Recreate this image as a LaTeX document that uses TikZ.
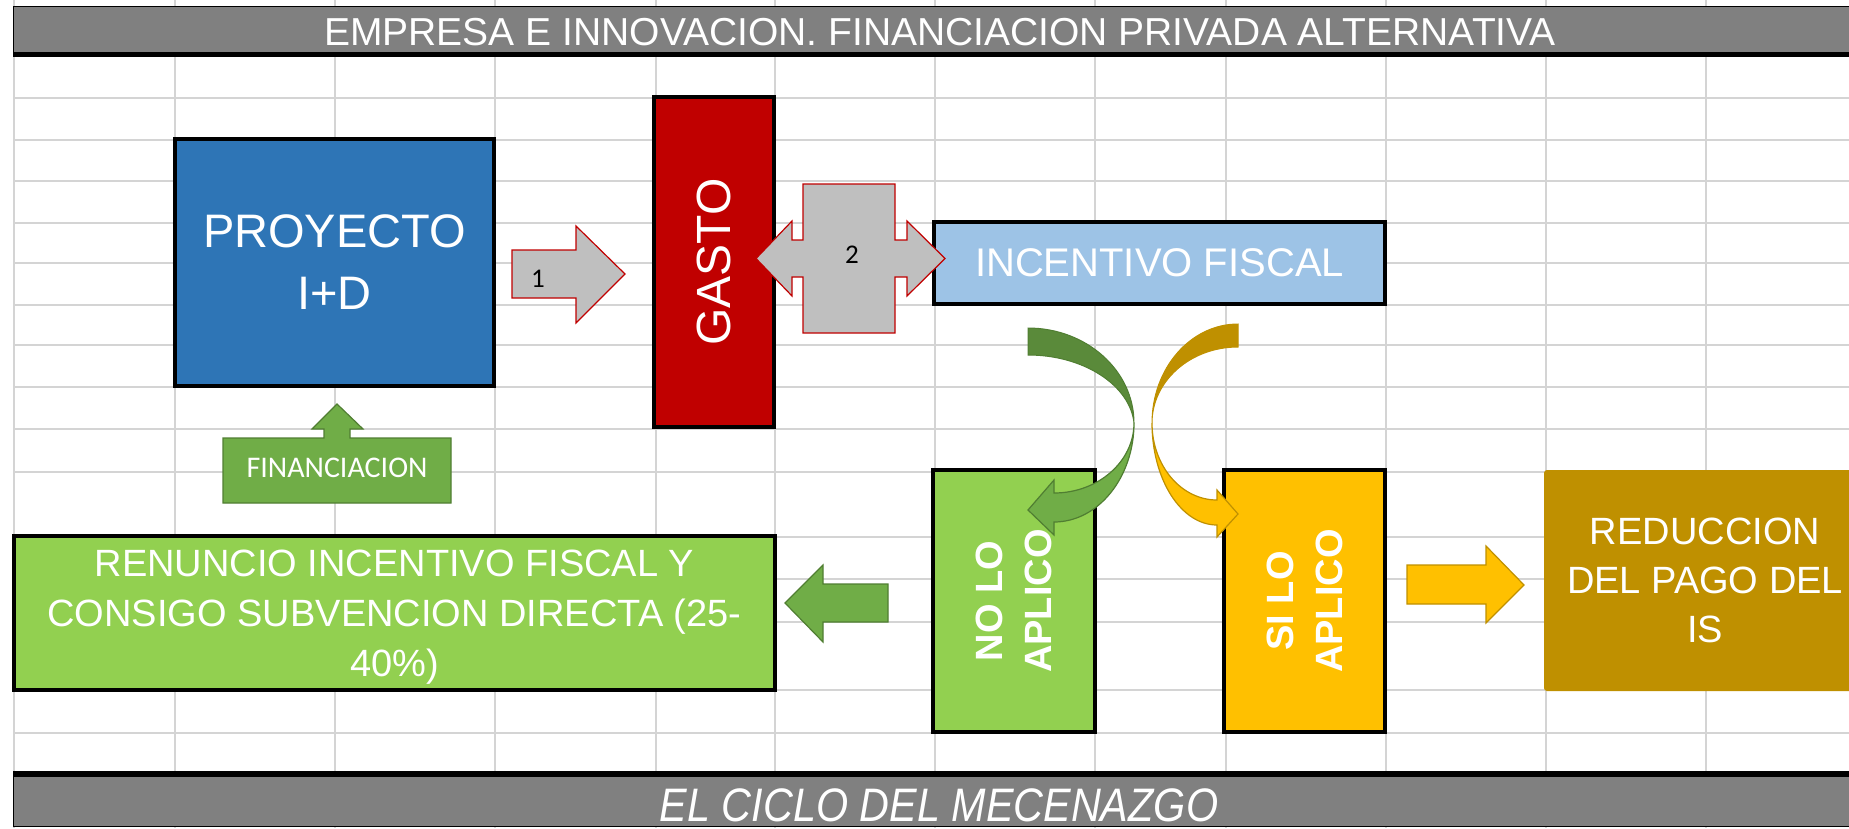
\documentclass[tikz,border=0pt]{standalone}
\usepackage{fontspec}
\setmainfont{Liberation Sans}
\newfontfamily\calibrifont{Carlito}
\newfontfamily\narrowfont[FakeStretch=0.88]{Liberation Sans}
\definecolor{gridgray}{HTML}{D4D4D4}
\definecolor{bargray}{HTML}{808080}
\definecolor{proyblue}{HTML}{2E75B6}
\definecolor{gasred}{HTML}{C00000}
\definecolor{arrowgray}{HTML}{BFBFBF}
\definecolor{incblue}{HTML}{9DC3E6}
\definecolor{leafgreen}{HTML}{70AD47}
\definecolor{leafdark}{HTML}{507E32}
\definecolor{backgreen}{HTML}{5A8A3A}
\definecolor{limegreen}{HTML}{92D050}
\definecolor{goldyellow}{HTML}{FFC000}
\definecolor{golddark}{HTML}{BF9000}
\begin{document}
\begin{tikzpicture}[x=1pt,y=-1pt,
  grid line/.style={draw=gridgray,line width=2},
  block/.style={draw=black,line width=4,inner sep=0pt,text=white,align=center},
  txt38/.style={font=\fontsize{38}{49}\selectfont},
  bold38/.style={font=\bfseries\fontsize{38}{49}\selectfont},
  gray arrow/.style={fill=arrowgray,draw=gasred,line width=1.2},
  green arrow/.style={fill=leafgreen,draw=leafdark,line width=1.2},
  gold arrow/.style={fill=goldyellow,draw=golddark,line width=1.2}]
\useasboundingbox (0,0) rectangle (1849,828);
% hoja de calculo
\foreach \x in {14,175,335,495,656,775,935,1095,1226,1386,1546,1706} \draw[grid line] (\x,0)--(\x,828);
\foreach \y in {98,140,181,223,263,305,345,387,429,472,537,579,622,690,733} \draw[grid line] (14,\y)--(1849,\y);
% barras de titulo
\draw[fill=bargray,line width=1] (13,6) rectangle (1870,52); \draw[line width=5] (13,54.5)--(1870,54.5);
\node[text=white,anchor=base,font=\fontsize{39}{46}\selectfont] (titulo) at (940,45) {EMPRESA E INNOVACION. FINANCIACION PRIVADA ALTERNATIVA};
\draw[fill=bargray,line width=1] (13,776) rectangle (1870,826); \draw[line width=5] (13,773.5)--(1870,773.5);
\node[text=white,anchor=base,font=\narrowfont\itshape\fontsize{47}{52}\selectfont] (ciclo) at (939,821) {EL CICLO DEL MECENAZGO};
% cajas
\node[block,fill=proyblue,minimum width=319,minimum height=247,font=\fontsize{47}{62}\selectfont] (proy) at (334.5,262.5) {PROYECTO\\I+D};
\node[block,fill=gasred,rotate=90,minimum width=330,minimum height=120,font=\fontsize{48}{58}\selectfont] (gasto) at (714,262) {GASTO};
\node[block,fill=incblue,minimum width=451,minimum height=82,font=\fontsize{40}{48}\selectfont] (incentivo) at (1159.5,263) {INCENTIVO FISCAL};
\node[block,fill=limegreen,minimum width=761,minimum height=154,font=\fontsize{38}{50}\selectfont] (renuncio) at (394.5,613) {};
\node[text=white,align=center,font=\fontsize{38}{50}\selectfont] (renunciotxt) at (394.5,617) {RENUNCIO INCENTIVO FISCAL Y\\CONSIGO SUBVENCION DIRECTA (25-\\40\%)};
\node[block,bold38,fill=limegreen,rotate=90,minimum width=262,minimum height=162] (nolo) at (1014,601) {NO LO\\APLICO};
\node[block,bold38,fill=goldyellow,rotate=90,minimum width=262,minimum height=161] (silo) at (1304.5,601) {SI LO\\APLICO};
\node[txt38,fill=golddark,text=white,align=center,rounded corners=3,minimum width=322,minimum height=221] (reduccion) at (1705,580.5) {REDUCCION\\DEL PAGO DEL\\IS};
% flechas de bloque
\draw[gray arrow] (512,250)--(576,250)--(576,226)--(625,274)--(576,323)--(576,298)--(512,298)--cycle;
\node[font=\calibrifont\fontsize{27}{30}\selectfont] (uno) at (538,279) {1};
\draw[gray arrow] (803,184)--(895,184)--(895,240)--(907,240)--(907,221)--(945,258.5)--(907,296)--(907,277)--(895,277)--(895,333)--(803,333)--(803,277)--(792,277)--(792,296)--(756,258.5)--(792,221)--(792,240)--(803,240)--cycle;
\node[font=\calibrifont\fontsize{27}{30}\selectfont] (dos) at (852,255) {2};
\draw[green arrow] (223,438)--(324,438)--(324,429)--(312,429)--(337,404)--(363,429)--(350,429)--(350,438)--(451,438)--(451,503)--(223,503)--cycle;
\node[text=white,font=\calibrifont\fontsize{30}{32}\selectfont] (financiacion) at (337,468) {FINANCIACION};
\draw[green arrow] (888,584)--(823,584)--(823,565)--(785,603)--(823,642)--(823,622)--(888,622)--cycle;
\draw[gold arrow] (1407,565)--(1486,565)--(1486,546)--(1524,585)--(1486,623)--(1486,604)--(1407,604)--cycle;
% flechas curvas
\draw[fill=backgreen,draw=leafdark,line width=1] (1028,328) .. controls (1086.5,328) and (1134,370.6) .. (1134,423) .. controls (1130,385.5) and (1084,355) .. (1028,355) -- cycle;
\draw[green arrow] (1134,423) .. controls (1134,477.6) and (1098,522) .. (1054,522) -- (1054,535) -- (1028,510) -- (1054,480) -- (1054,493) .. controls (1098,493) and (1134,461.6) .. (1134,423) -- cycle;
\draw[fill=golddark,draw=golddark,line width=1] (1238,324) .. controls (1190.5,324) and (1152,368.4) .. (1152,423) .. controls (1152,381) and (1190.5,347) .. (1238,347) -- cycle;
\draw[gold arrow] (1152,423) .. controls (1152,479.3) and (1181,525) .. (1217,525) -- (1217,537) -- (1238,514) -- (1217,490) -- (1217,500) .. controls (1181,500) and (1152,465.5) .. (1152,423) -- cycle;
\end{tikzpicture}
\end{document}
